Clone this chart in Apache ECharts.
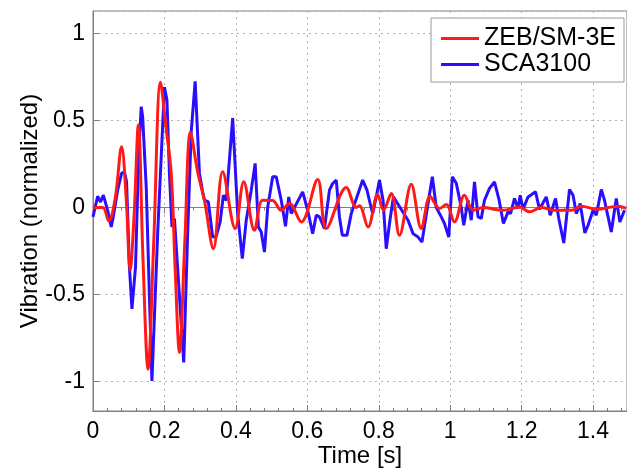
<!DOCTYPE html>
<html>
<head>
<meta charset="utf-8">
<script src="https://cdn.jsdelivr.net/npm/echarts@6/dist/echarts.min.js"></script>
<style>
  html, body { margin: 0; padding: 0; background: #fff; }
  #chart { width: 627px; height: 469px; }
</style>
</head>
<body>
<div id="chart"></div>
<script>
// ZEB/SM-3E (red) as [time s, value]
var zebData = [
    [0, 0], [0.027, 0], [0.044, -0.077], [0.062, 0.05], [0.080, 0.35], [0.093, 0.05],
    [0.104, -0.358], [0.115, -0.05], [0.127, 0.475], [0.140, -0.3], [0.154, -0.93],
    [0.170, -0.2], [0.189, 0.72], [0.205, 0.45], [0.219, 0.196], [0.230, -0.35],
    [0.242, -0.833], [0.257, -0.2], [0.273, 0.433], [0.293, 0.205], [0.312, 0.04],
    [0.337, -0.237], [0.363, 0.205], [0.398, -0.121], [0.422, 0.148], [0.452, -0.131],
    [0.475, 0.042], [0.503, 0.04], [0.527, -0.016], [0.550, 0.023], [0.583, -0.083],
    [0.629, 0.161], [0.653, -0.121], [0.709, 0.115], [0.737, 0], [0.746, 0.01],
    [0.770, -0.112], [0.797, 0.077], [0.813, -0.016], [0.835, 0.08], [0.858, -0.16],
    [0.891, 0.134], [0.919, -0.121], [0.944, 0.065], [0.970, -0.006], [0.989, 0.017],
    [1.012, -0.083], [1.040, 0.071], [1.064, -0.016], [1.092, 0], [1.148, -0.016],
    [1.194, 0.003], [1.222, -0.025], [1.255, 0], [1.292, -0.016], [1.339, -0.016],
    [1.367, 0.008], [1.409, -0.01], [1.470, 0.008], [1.493, -0.005]
];

// SCA3100 (blue)
var scaData = [
    [0, -0.054], [0.013, 0.065], [0.021, 0.032], [0.029, 0.071], [0.041, -0.016],
    [0.051, -0.112], [0.057, -0.05], [0.069, 0.1], [0.080, 0.196], [0.088, 0.205],
    [0.094, 0.148], [0.102, -0.343], [0.109, -0.583], [0.119, -0.343], [0.128, 0.31],
    [0.135, 0.58], [0.139, 0.523], [0.149, 0.119], [0.165, -0.997], [0.181, -0.15],
    [0.200, 0.692], [0.207, 0.62], [0.214, 0.196], [0.221, -0.112], [0.228, -0.063],
    [0.254, -0.891], [0.265, -0.15], [0.275, 0.436], [0.286, 0.725], [0.298, 0.196],
    [0.307, 0.09], [0.312, 0.042], [0.323, 0.032], [0.335, -0.17], [0.345, -0.165],
    [0.356, -0.083], [0.365, 0.071], [0.373, 0.04], [0.391, 0.514], [0.405, -0.035],
    [0.418, -0.294], [0.429, -0.073], [0.443, 0.1], [0.454, 0.254], [0.463, -0.112],
    [0.471, -0.141], [0.480, -0.256], [0.489, 0], [0.503, 0.177], [0.513, 0.177],
    [0.527, 0.042], [0.539, -0.108], [0.548, 0.061], [0.555, -0.035], [0.587, 0.09],
    [0.601, -0.016], [0.615, -0.15], [0.625, -0.044], [0.634, -0.054], [0.648, -0.121],
    [0.662, 0.1], [0.671, 0.138], [0.681, 0.158], [0.690, -0.054], [0.698, -0.16],
    [0.711, -0.16], [0.723, -0.035], [0.755, 0.158], [0.767, 0.1], [0.776, 0.023],
    [0.783, -0.035], [0.793, 0.061], [0.802, 0.158], [0.812, 0.042], [0.821, -0.237],
    [0.832, -0.063], [0.841, 0.061], [0.882, -0.073], [0.896, -0.15], [0.910, -0.17],
    [0.921, -0.198], [0.938, 0.023], [0.950, 0.177], [0.961, 0], [0.975, -0.054],
    [0.984, -0.092], [0.996, -0.17], [1.006, 0.177], [1.017, 0.14], [1.031, 0],
    [1.038, -0.102], [1.050, 0.042], [1.059, -0.073], [1.068, 0.148], [1.078, -0.054],
    [1.087, -0.063], [1.096, 0.042], [1.110, 0.11], [1.124, 0.148], [1.137, 0.042],
    [1.149, -0.092], [1.162, -0.025], [1.169, -0.035], [1.180, 0.052], [1.190, -0.006],
    [1.196, 0.071], [1.204, -0.01], [1.218, 0.061], [1.239, 0.09], [1.250, -0.01],
    [1.269, 0.061], [1.280, -0.044], [1.295, 0.052], [1.304, -0.063], [1.318, -0.204],
    [1.334, 0.104], [1.344, 0.071], [1.353, -0.035], [1.364, 0.023], [1.377, -0.146],
    [1.386, -0.102], [1.400, -0.016], [1.409, -0.044], [1.423, 0.104], [1.432, 0.042],
    [1.442, -0.054], [1.451, -0.141], [1.465, 0.052], [1.475, -0.083], [1.488, -0.016]
];

var seriesNames = ['ZEB/SM-3E', 'SCA3100'];

var chart = echarts.init(document.getElementById('chart'));
var font = 'Liberation Sans, Arial, sans-serif';
var gridLine = { show: true, lineStyle: { color: '#b0b0b0', type: [2, 4], width: 1 } };

var option = {
    backgroundColor: '#fff',
    animation: false,
    grid: {
        left: 93, right: 0, top: 11, bottom: 58,
        outerBoundsMode: 'none', containLabel: false,
        show: true, borderColor: '#808080', borderWidth: 1
    },
    legend: {
        data: seriesNames,
        orient: 'vertical',
        right: 3, top: 18,
        icon: 'rect',
        itemWidth: 38, itemHeight: 3, itemGap: 1,
        padding: [8, 8, 5, 10],
        backgroundColor: '#fff',
        borderColor: '#999', borderWidth: 1,
        textStyle: { fontFamily: font, fontSize: 25, color: '#000' }
    },
    xAxis: [{
        type: 'value', min: 0, max: 1.495, interval: 0.2,
        name: 'Time [s]', nameLocation: 'middle', nameGap: 33, nameMoveOverlap: false,
        nameTextStyle: { fontFamily: font, fontSize: 24, color: '#000' },
        axisLine: { show: true, onZero: false, lineStyle: { color: '#808080' } },
        axisTick: { show: true, inside: true, length: 6, lineStyle: { color: '#808080' } },
        minorTick: { show: true, splitNumber: 5, length: 3, lineStyle: { color: '#808080' } },
        axisLabel: {
            fontFamily: font, fontSize: 23, color: '#000', margin: 9, showMaxLabel: false,
            formatter: function (v) { return Math.abs(v * 5 - Math.round(v * 5)) < 1e-6 ? String(+v.toFixed(1)) : ''; }
        },
        splitLine: gridLine
    }, {
        type: 'value', min: 0, max: 1.495, interval: 0.2, position: 'top',
        axisLine: { show: true, lineStyle: { color: '#808080' } },
        axisTick: { show: true, inside: true, length: 6, lineStyle: { color: '#808080' } },
        minorTick: { show: true, splitNumber: 5, length: 3, lineStyle: { color: '#808080' } },
        axisLabel: { show: false },
        splitLine: { show: false }
    }],
    yAxis: {
        type: 'value', min: -1.17, max: 1.13, splitNumber: 5,
        name: 'Vibration (normalized)', nameLocation: 'middle', nameGap: 51, nameMoveOverlap: false,
        nameTextStyle: { fontFamily: font, fontSize: 24, color: '#000' },
        axisLine: { show: true, onZero: false, lineStyle: { color: '#808080' } },
        axisTick: { show: true, inside: true, length: 6, lineStyle: { color: '#808080' } },
        axisLabel: {
            fontFamily: font, fontSize: 23, color: '#000', margin: 8,
            showMinLabel: false, showMaxLabel: false,
            formatter: function (v) { return Math.abs(v * 2 - Math.round(v * 2)) < 1e-6 ? String(+v.toFixed(1)) : ''; }
        },
        splitLine: gridLine
    },
    series: [{
        name: seriesNames[0], type: 'line', data: zebData, symbol: 'none',
        smooth: 0.35, z: 3,
        lineStyle: { color: '#ff1a1a', width: 3 }, itemStyle: { color: '#ff1a1a' }
    }, {
        name: seriesNames[1], type: 'line', data: scaData, symbol: 'none', z: 2,
        lineStyle: { color: '#2a0fff', width: 3 }, itemStyle: { color: '#2a0fff' }
    }]
};

chart.setOption(option);
</script>
</body>
</html>
